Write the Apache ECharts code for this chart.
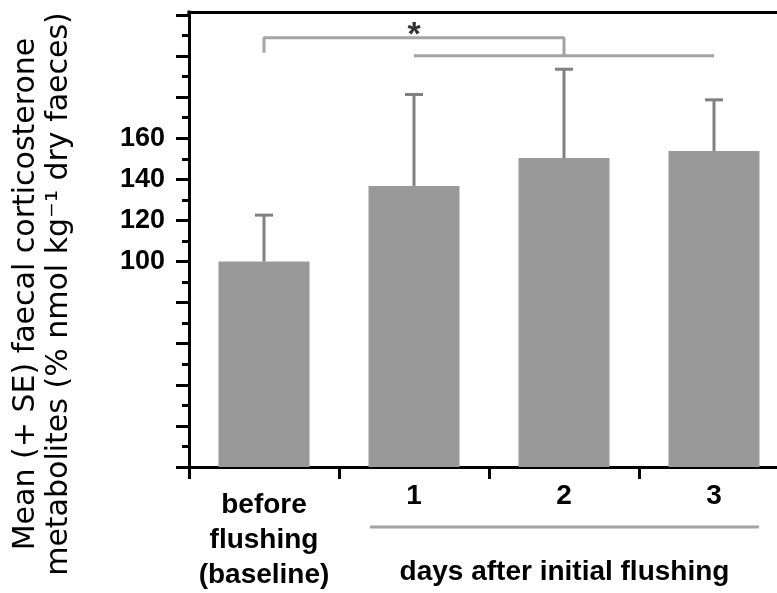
<!DOCTYPE html>
<html>
<head>
<meta charset="utf-8">
<script src="https://cdn.jsdelivr.net/npm/echarts@6/dist/echarts.min.js"></script>
<style>html,body{margin:0;padding:0;background:#fff;overflow:hidden;width:777px;height:593px;}#c{width:800px;height:593px;}</style>
</head>
<body>
<div id="c"></div>
<script>
var categories = ['before\nflushing\n(baseline)', '1', '2', '3'];
var means = [100, 136.8, 150.4, 153.8];
var upperSE = [122.6, 181.3, 193.6, 178.7];
var yTickLabels = [100, 120, 140, 160];
var bracketA = [[0, 201.6], [0, 208.9], [2, 208.9], [2, 200.2]];
var bracketB = [[1, 200.2], [3, 200.2]];
var starPoint = [[1, 214]];
var groupLabel = 'days after initial flushing';
var yTitle = ['Mean (+ SE) faecal corticosterone', 'metabolites (% nmol kg\u207B\u00B9 dry faeces)'];

var chart = echarts.init(document.getElementById('c'), null, {renderer: 'canvas'});
var FONT = '"Liberation Sans", Arial, sans-serif';

var xData = categories.map(function (c, i) {
  return i === 0 ? {value: c, textStyle: {padding: [9, 0, 0, 0]}} : c;
});

var errData = means.map(function (m, i) { return [i, m, upperSE[i]]; });

var option = {
  animation: false,
  grid: {left: 189, top: 15, width: 600, height: 455, containLabel: false},
  xAxis: [{
    type: 'category', data: xData, boundaryGap: true,
    axisLine: {lineStyle: {color: '#000', width: 3}},
    axisTick: {show: true, length: 12, lineStyle: {color: '#000', width: 3}, alignWithLabel: false},
    axisLabel: {color: '#000', fontFamily: FONT, fontWeight: 'bold', fontSize: 28, lineHeight: 35, margin: 12, interval: 0},
    splitLine: {show: false}
  }, {
    type: 'category', data: xData, position: 'top', offset: 3,
    axisLine: {lineStyle: {color: '#000', width: 3}},
    axisTick: {show: false}, axisLabel: {show: false}, splitLine: {show: false}
  }],
  yAxis: {
    type: 'value', min: 0, max: 220, interval: 20,
    axisLine: {show: true, lineStyle: {color: '#000', width: 3}},
    axisTick: {show: true, length: 13, lineStyle: {color: '#000', width: 3}},
    minorTick: {show: true, splitNumber: 2, length: 7, lineStyle: {color: '#000', width: 3}},
    splitLine: {show: false},
    axisLabel: {
      color: '#000', fontFamily: FONT, fontWeight: 'bold', fontSize: 27, margin: 24,
      formatter: function (v) { return yTickLabels.indexOf(v) >= 0 ? String(v) : ''; }
    }
  },
  graphic: [],
  series: [{
    type: 'bar', data: means, barWidth: 91, itemStyle: {color: '#999999'}, z: 2
  }, {
    type: 'custom', data: errData, z: 3,
    renderItem: function (params, api) {
      var x = api.value(0);
      var p0 = api.coord([x, api.value(1)]);
      var p1 = api.coord([x, api.value(2)]);
      var st = {stroke: '#808080', lineWidth: 3};
      return {type: 'group', children: [
        {type: 'line', shape: {x1: p0[0], y1: p0[1], x2: p1[0], y2: p1[1]}, style: st},
        {type: 'line', shape: {x1: p1[0] - 9, y1: p1[1], x2: p1[0] + 9, y2: p1[1]}, style: st}
      ]};
    }
  }, {
    type: 'line', data: bracketA, symbol: 'none', lineStyle: {color: '#a3a3a3', width: 3}, z: 4
  }, {
    type: 'line', data: bracketB, symbol: 'none', lineStyle: {color: '#a3a3a3', width: 3}, z: 4
  }, {
    type: 'scatter', data: starPoint, symbolSize: 1, itemStyle: {color: 'rgba(0,0,0,0)'},
    label: {show: true, position: 'inside', formatter: '*', color: '#000', fontFamily: FONT, fontWeight: 'bold', fontSize: 34, offset: [0, 8]}
  }]
};
chart.setOption(option);

var pA = chart.convertToPixel({gridIndex: 0}, [1, 0]);
var pB = chart.convertToPixel({gridIndex: 0}, [3, 0]);
var pTop = chart.convertToPixel({gridIndex: 0}, [0, 220]);
var axisX = chart.getModel().getComponent('grid', 0).coordinateSystem.getRect().x;
var x1 = pA[0] - 44, x2 = pB[0] + 45;
chart.setOption({
  graphic: [
    {type: 'line', shape: {x1: axisX, y1: pTop[1] - 4.5, x2: axisX, y2: pTop[1] + 1}, style: {stroke: '#000', lineWidth: 3}},
    {type: 'line', shape: {x1: x1, y1: 527, x2: x2, y2: 527}, style: {stroke: '#a3a3a3', lineWidth: 3}},
    {type: 'text', x: (x1 + x2) / 2, y: 572, style: {text: groupLabel, fill: '#000', font: 'bold 28px ' + FONT, textAlign: 'center', textVerticalAlign: 'middle'}},
    {type: 'text', x: 43, y: 294, rotation: Math.PI / 2, style: {text: yTitle.join('\n'), fill: '#000', font: '30px "DejaVu Sans", sans-serif', lineHeight: 33, textAlign: 'center', textVerticalAlign: 'middle'}}
  ]
});
</script>
</body>
</html>
